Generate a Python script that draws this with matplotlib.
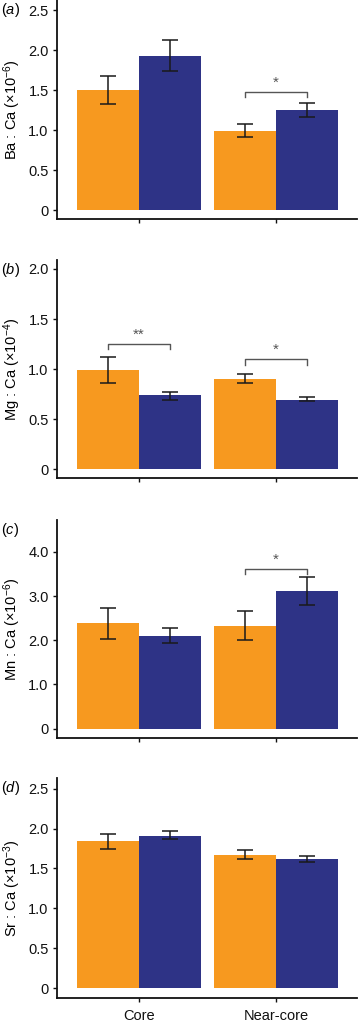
import numpy as np
import matplotlib
matplotlib.use("Agg")
import matplotlib.pyplot as plt

plt.rcParams['font.family'] = ['Liberation Sans', 'DejaVu Sans']
plt.rcParams['mathtext.fontset'] = 'custom'
plt.rcParams['mathtext.rm'] = 'Liberation Sans'
plt.rcParams['mathtext.it'] = 'Liberation Sans:italic'

# Groups along x
groups = ["Core", "Near-core"]

# Panel data: [Core, Near-core] for orange and blue bars, with error bar bounds
ba_orange = [1.50, 0.99]
ba_orange_lo = [1.325, 0.91]
ba_orange_hi = [1.675, 1.08]
ba_blue = [1.93, 1.25]
ba_blue_lo = [1.74, 1.16]
ba_blue_hi = [2.13, 1.34]

mg_orange = [0.99, 0.90]
mg_orange_lo = [0.863, 0.857]
mg_orange_hi = [1.117, 0.95]
mg_blue = [0.737, 0.69]
mg_blue_lo = [0.69, 0.68]
mg_blue_hi = [0.773, 0.723]

mn_orange = [2.38, 2.32]
mn_orange_lo = [2.03, 2.00]
mn_orange_hi = [2.72, 2.66]
mn_blue = [2.10, 3.11]
mn_blue_lo = [1.93, 2.79]
mn_blue_hi = [2.27, 3.43]

sr_orange = [1.84, 1.67]
sr_orange_lo = [1.75, 1.62]
sr_orange_hi = [1.93, 1.73]
sr_blue = [1.91, 1.62]
sr_blue_lo = [1.87, 1.58]
sr_blue_hi = [1.975, 1.65]

ylabels = [r"Ba : Ca (×10$^{-6}$)", r"Mg : Ca (×10$^{-4}$)",
           r"Mn : Ca (×10$^{-6}$)", r"Sr : Ca (×10$^{-3}$)"]
panel_tags = ["a", "b", "c", "d"]
yticks = [[0, 0.5, 1.0, 1.5, 2.0, 2.5],
          [0, 0.5, 1.0, 1.5, 2.0],
          [0, 1.0, 2.0, 3.0, 4.0],
          [0, 0.5, 1.0, 1.5, 2.0, 2.5]]
ylims = [(-0.11, 2.63), (-0.093, 2.09), (-0.22, 4.72), (-0.12, 2.63)]

# Significance brackets: (panel, group, bracket height, tick drop, label)
sig = [(0, 1, 1.48, 0.06, "*"),
       (1, 0, 1.25, 0.05, "**"),
       (1, 1, 1.10, 0.065, "*"),
       (2, 1, 3.61, 0.11, "*")]

orange = "#F7991F"
blue = "#2E3386"
width = 0.4526

panels = [
    (ba_orange, ba_orange_lo, ba_orange_hi, ba_blue, ba_blue_lo, ba_blue_hi),
    (mg_orange, mg_orange_lo, mg_orange_hi, mg_blue, mg_blue_lo, mg_blue_hi),
    (mn_orange, mn_orange_lo, mn_orange_hi, mn_blue, mn_blue_lo, mn_blue_hi),
    (sr_orange, sr_orange_lo, sr_orange_hi, sr_blue, sr_blue_lo, sr_blue_hi),
]

# axes boxes in pixels (top, bottom) within 359x1022 figure
W, H = 359., 1022.
boxes = [(0, 219), (260, 478.3), (520, 738.3), (778.3, 997.7)]
left, right = 57, 357

fig = plt.figure(figsize=(W / 100, H / 100), dpi=100)
x = np.arange(len(groups))

for i, (o, olo, ohi, b, blo, bhi) in enumerate(panels):
    top, bot = boxes[i]
    ax = fig.add_axes([left / W, 1 - bot / H, (right - left) / W, (bot - top) / H])
    o = np.array(o); b = np.array(b)
    ax.bar(x - width / 2, o, width, color=orange, linewidth=0)
    ax.bar(x + width / 2, b, width, color=blue, linewidth=0)
    oerr = [o - np.array(olo), np.array(ohi) - o]
    berr = [b - np.array(blo), np.array(bhi) - b]
    ax.errorbar(x - width / 2, o, yerr=oerr, fmt='none', ecolor='#1a1a1a',
                elinewidth=1.1, capsize=5.5, capthick=1.1)
    ax.errorbar(x + width / 2, b, yerr=berr, fmt='none', ecolor='#1a1a1a',
                elinewidth=1.1, capsize=5.5, capthick=1.1)

    for (p, g, yb, drop, lab) in sig:
        if p != i:
            continue
        x0, x1 = g - width / 2, g + width / 2
        ax.plot([x0, x0, x1, x1], [yb - drop, yb, yb, yb - drop],
                color='#555555', lw=1.0)
        ax.text(g, yb + (ylims[i][1] - ylims[i][0]) * 0.01, lab,
                ha='center', va='bottom', fontsize=11, color='#555555')

    ax.set_xlim(-0.5985, 1.591)
    ax.set_ylim(*ylims[i])
    ax.set_yticks(yticks[i])
    ax.set_yticklabels(["0" if t == 0 else "%.1f" % t for t in yticks[i]])
    ax.set_xticks(x)
    if i == 3:
        ax.set_xticklabels(groups, fontsize=11)
    else:
        ax.set_xticklabels([])
    for s in ['top', 'right']:
        ax.spines[s].set_visible(False)
    for s in ['left', 'bottom']:
        ax.spines[s].set_linewidth(1.3)
        ax.spines[s].set_color('#111111')
    ax.tick_params(axis='both', length=3, width=1.0, labelsize=10.5,
                   colors='#111111', pad=3)
    ax.tick_params(axis='x', pad=5)
    ax.set_ylabel(ylabels[i], fontsize=10.5)
    ax.yaxis.set_label_coords(-0.112, 0.5)

    fig.text(1 / W, 1 - (top + 10) / H, r"($\mathit{%s}$)" % panel_tags[i],
             fontsize=10.5, ha='left', va='center')

fig.savefig("out.png", dpi=100)
